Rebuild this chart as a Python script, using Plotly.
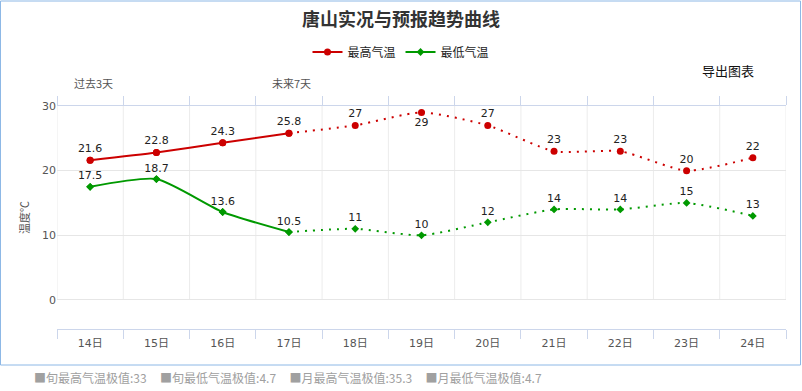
import plotly.graph_objects as go

days = ["14日", "15日", "16日", "17日", "18日", "19日", "20日", "21日", "22日", "23日", "24日"]
high = [21.6, 22.8, 24.3, 25.8, 27, 29, 27, 23, 23, 20, 22]
low = [17.5, 18.7, 13.6, 10.5, 11, 10, 12, 14, 14, 15, 13]
n_past = 4  # 14..17 observed (solid), rest forecast (dotted)
high_label_pos = ["top center"] * 5 + ["bottom center"] + ["top center"] * 5
low_label_pos = ["top center"] * 11
y_ticks = [0, 10, 20, 30]
footer = ["旬最高气温极值:33", "旬最低气温极值:4.7", "月最高气温极值:35.3", "月最低气温极值:4.7"]

W, H = 802, 391
ML, MR, MT, MB = 57, 16, 106, 62
PW, PH = W - ML - MR, H - MT - MB

def px(x):
    return (x - ML) / PW

def py(y):
    return (H - MB - y) / PH

RED = "#CC0000"
GREEN = "#009900"
FONT = "DejaVu Sans, Noto Sans CJK SC, sans-serif"
CJK = "Noto Sans CJK SC, sans-serif"
SMOOTH = 0.6

fig = go.Figure()

def add_series(vals, name, color, symbol, msize, tpos):
    fig.add_trace(go.Scatter(
        x=days[:n_past], y=vals[:n_past], name=name, mode="lines+markers",
        line=dict(color=color, width=2, shape="spline", smoothing=SMOOTH),
        marker=dict(color=color, symbol=symbol, size=msize),
        legendgroup=name, showlegend=True, hoverinfo="skip"))
    fig.add_trace(go.Scatter(
        x=days[n_past - 1:], y=vals[n_past - 1:], name=name, mode="lines",
        line=dict(color=color, width=2, shape="spline", smoothing=SMOOTH, dash="2px,6px"),
        legendgroup=name, showlegend=False, hoverinfo="skip"))
    fig.add_trace(go.Scatter(
        x=days, y=vals, name=name, mode="markers+text",
        marker=dict(color=color, symbol=symbol, size=msize),
        text=[f"{v:g}" for v in vals], textposition=tpos,
        textfont=dict(size=11, color="#222", family=FONT),
        legendgroup=name, showlegend=False, hoverinfo="skip", cliponaxis=False))

add_series(high, "最高气温", RED, "circle", 7, high_label_pos)
add_series(low, "最低气温", GREEN, "diamond", 6, low_label_pos)

# dummy trace for the top axis
fig.add_trace(go.Scatter(x=days, y=[None] * len(days), xaxis="x2", showlegend=False, hoverinfo="skip"))

shapes = []
for i in range(len(days) + 1):
    shapes.append(dict(type="line", xref="x", yref="y", x0=i - 0.5, x1=i - 0.5,
                       y0=y_ticks[0], y1=y_ticks[-1], line=dict(color="#ececec", width=1), layer="below"))
# outer border
shapes.append(dict(type="rect", xref="paper", yref="paper", x0=px(0.5), x1=px(800.5),
                   y0=py(1), y1=py(365), line=dict(color="#8db8e6", width=1), layer="below"))

def note(text, x, y, size, color, xanchor="center"):
    return dict(text=text, x=px(x), y=py(y), xref="paper", yref="paper", showarrow=False,
                xanchor=xanchor, yanchor="middle", font=dict(size=size, color=color, family=CJK))

gap = "\u00a0" * 5
annotations = [
    note("过去3天", 93, 83, 11, "#555"),
    note("未来7天", 291, 83, 11, "#555"),
    note("导出图表", 728, 70, 13, "#111"),
    note(gap.join("■" + f for f in footer), 32, 377, 12, "#a0a0a0", xanchor="left"),
]

fig.update_layout(
    width=W, height=H,
    margin=dict(l=ML, r=MR, t=MT, b=MB, autoexpand=False),
    paper_bgcolor="white", plot_bgcolor="white",
    font=dict(family=FONT, color="#555", size=11),
    title=dict(text="<b>唐山实况与预报趋势曲线</b>", x=0.5, xref="container", xanchor="center",
               y=1 - 20 / H, yanchor="middle",
               font=dict(size=18, color="#333", family=CJK)),
    legend=dict(orientation="h", x=px(401), xanchor="center", y=py(52), yanchor="middle",
                font=dict(size=12, color="#222", family=CJK), itemwidth=30, traceorder="normal"),
    xaxis=dict(type="category", range=[-0.5, len(days) - 0.5], tickson="boundaries", automargin=False,
               ticks="outside", ticklen=9, tickcolor="#ccd6eb", showline=True, linecolor="#ccd6eb",
               ticklabelstandoff=4,
               showgrid=False, zeroline=False, tickfont=dict(size=11, color="#555", family=FONT)),
    xaxis2=dict(type="category", overlaying="x", side="top", range=[-0.5, len(days) - 0.5], automargin=False,
                tickson="boundaries", ticks="outside", ticklen=9, tickcolor="#ccd6eb",
                showline=True, linecolor="#ccd6eb", showgrid=False, showticklabels=False, zeroline=False),
    yaxis=dict(range=[-4.5, 30], tickvals=y_ticks, showgrid=True, gridcolor="#e6e6e6", zeroline=False,
               showline=False, ticks="", automargin=False, tickfont=dict(size=11, color="#555", family=FONT),
               title=dict(text="温度℃", standoff=10, font=dict(size=11, color="#555", family=CJK))),
    shapes=shapes, annotations=annotations,
)

fig.write_html("out.html", config={"displayModeBar": False},
               post_script="document.body.style.margin='0';document.body.style.overflow='hidden';")
